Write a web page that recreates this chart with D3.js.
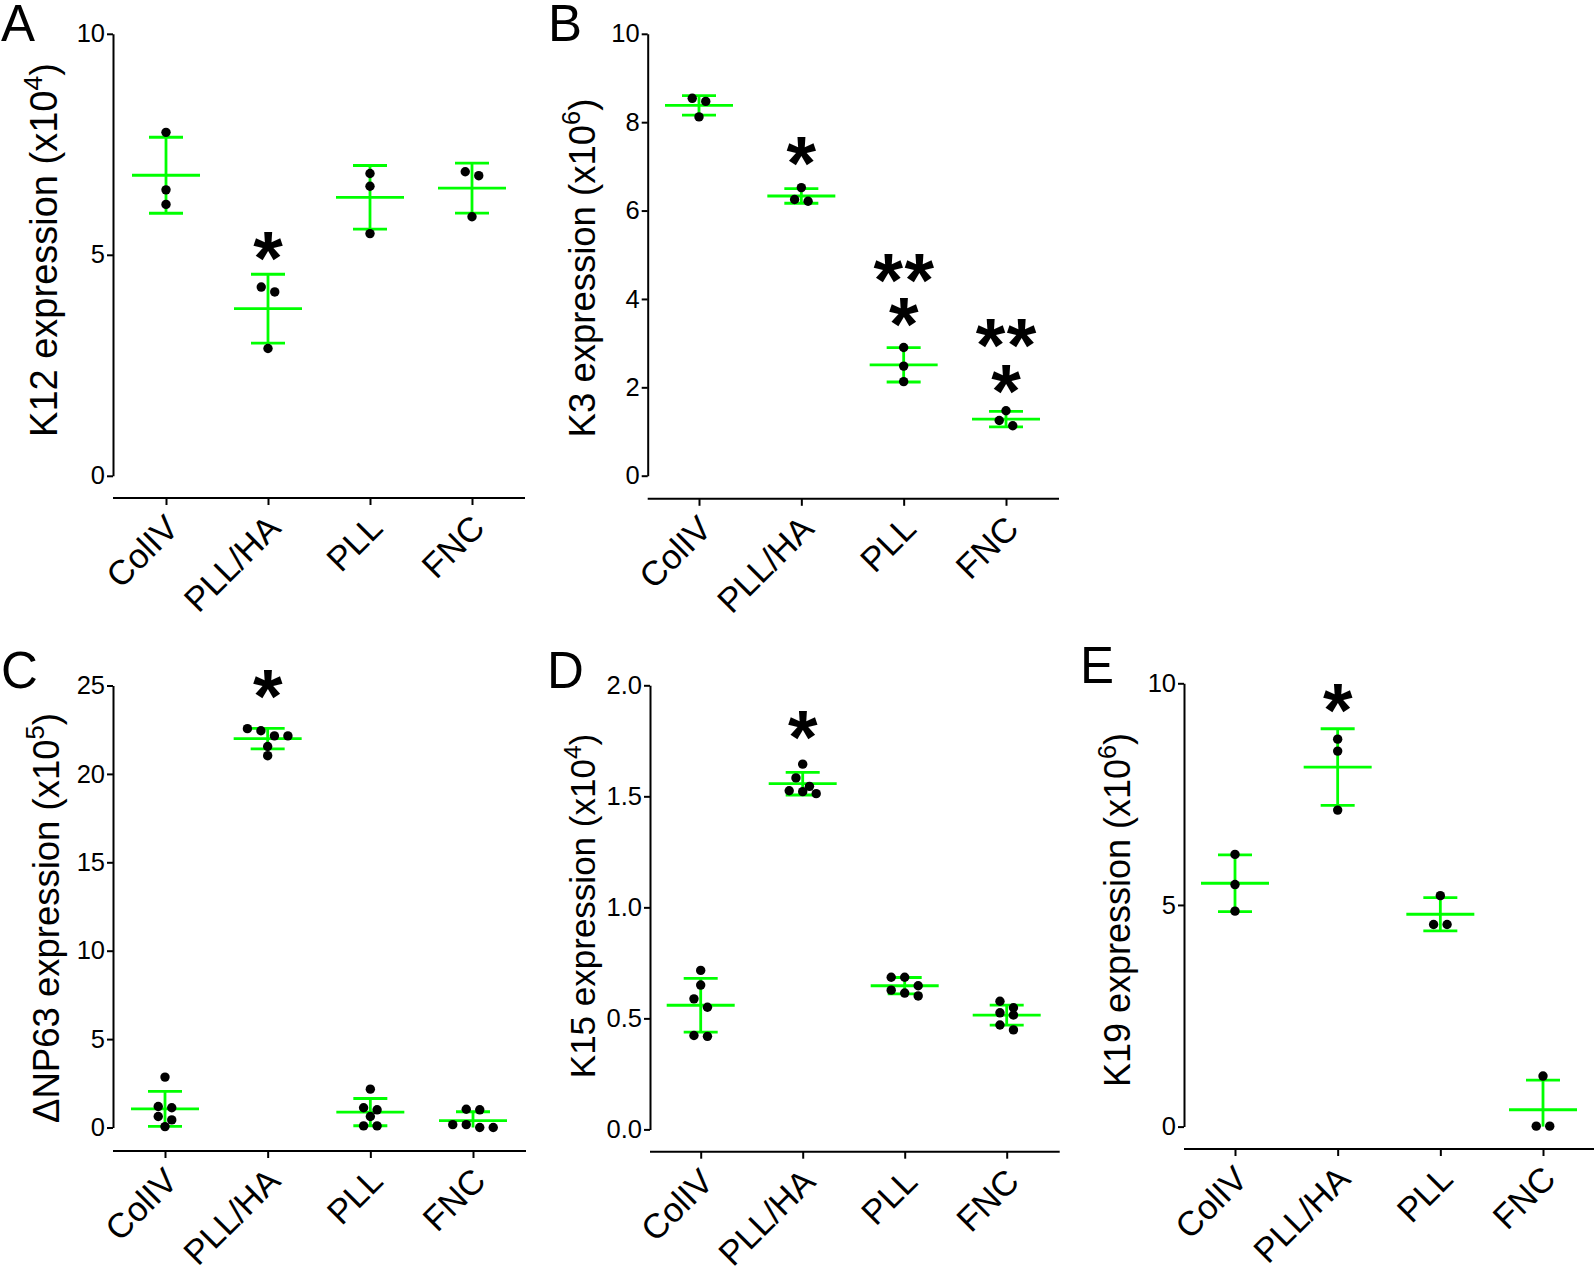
<!DOCTYPE html>
<html>
<head>
<meta charset="utf-8">
<script src="https://cdn.jsdelivr.net/npm/d3@7"></script>
<style>
  body { margin: 0; background: #fff; }
  svg { display: block; }
  text { font-family: "Liberation Sans", Arial, Helvetica, sans-serif; fill: #000; }
</style>
</head>
<body>
<div id="chart"></div>
<script>
// groups on every panel
var groups = ["ColIV", "PLL/HA", "PLL", "FNC"];

// A: K12 expression (x10^4)
var k12Dots = [[7.77, 6.47, 6.14], [4.27, 4.16, 2.88], [6.84, 6.55, 5.48], [6.88, 6.79, 5.86]];
var k12Mean = [6.80, 3.78, 6.30, 6.51];
var k12Sd = [0.86, 0.78, 0.72, 0.565];
var k12Ticks = [0, 5, 10];
var k12Stars = [["PLL/HA", 5.14, "*"]];

// B: K3 expression (x10^6)
var k3Dots = [[8.54, 8.47, 8.12], [6.52, 6.25, 6.21], [2.90, 2.48, 2.13], [1.47, 1.25, 1.13]];
var k3Mean = [8.38, 6.33, 2.51, 1.28];
var k3Sd = [0.22, 0.165, 0.39, 0.175];
var k3Ticks = [0, 2, 4, 6, 8, 10];
var k3Stars = [["PLL/HA", 7.30, "*"], ["PLL", 4.65, "**"], ["PLL", 3.66, "*"], ["FNC", 3.17, "**"], ["FNC", 2.13, "*"]];

// C: ΔNP63 expression (x10^5)
var np63Dots = [[2.85, 1.19, 1.12, 0.62, 0.43, 0.05], [22.56, 22.44, 22.15, 22.15, 21.55, 21.03],
                [2.17, 1.12, 1.00, 0.62, 0.09, 0.09], [1.03, 1.00, 0.16, 0.16, 0.0, 0.0]];
var np63Mean = [1.05, 21.99, 0.87, 0.39];
var np63Sd = [0.99, 0.58, 0.77, 0.50];
var np63Ticks = [0, 5, 10, 15, 20, 25];
var np63Stars = [["PLL/HA", 24.93, "*"]];

// D: K15 expression (x10^4)
var k15Dots = [[0.716, 0.650, 0.588, 0.550, 0.423, 0.419], [1.645, 1.583, 1.545, 1.525, 1.521, 1.512],
               [0.685, 0.685, 0.647, 0.627, 0.614, 0.601], [0.577, 0.548, 0.525, 0.515, 0.470, 0.448]];
var k15Mean = [0.559, 1.557, 0.647, 0.515];
var k15Sd = [0.121, 0.051, 0.037, 0.045];
var k15Ticks = [0, 0.5, 1.0, 1.5, 2.0];
var k15Stars = [["PLL/HA", 1.81, "*"]];

// E: K19 expression (x10^6)
var k19Dots = [[6.14, 5.46, 4.86], [8.74, 8.47, 7.14], [5.21, 4.56, 4.56], [1.14, 0.01, 0.01]];
var k19Mean = [5.49, 8.11, 4.79, 0.38];
var k19Sd = [0.64, 0.865, 0.375, 0.67];
var k19Ticks = [0, 5, 10];
var k19Stars = [["PLL/HA", 9.61, "*"]];

var width = 1594, height = 1271;
var green = "#00ff00";
var dotR = 4.7;
var starSize = 76;

var svg = d3.select("#chart").append("svg")
    .attr("width", width)
    .attr("height", height);

var panels = [
    { letter: "A", lx: 1, ly: 41, title: "K12 expression (x10", sup: "4", titleOff: 56, titleY: 250, titleSize: 38,
      dots: k12Dots, mean: k12Mean, sd: k12Sd, ticks: k12Ticks, stars: k12Stars, fmt: d3.format("d"),
      x0: 113, t0: 166, t1: 472, yTop: 33.8, yBot: 475.8, axisY: 498 },
    { letter: "B", lx: 548, ly: 41, title: "K3 expression (x10", sup: "6", titleOff: 53, titleY: 268, titleSize: 36.5,
      dots: k3Dots, mean: k3Mean, sd: k3Sd, ticks: k3Ticks, stars: k3Stars, fmt: d3.format("d"),
      x0: 647.7, t0: 699, t1: 1006, yTop: 33.8, yBot: 475.7, axisY: 498.8 },
    { letter: "C", lx: 1, ly: 688, title: "\u0394NP63 expression (x10", sup: "5", titleOff: 54, titleY: 918, titleSize: 36.5,
      dots: np63Dots, mean: np63Mean, sd: np63Sd, ticks: np63Ticks, stars: np63Stars, fmt: d3.format("d"),
      x0: 113, t0: 165, t1: 473, yTop: 685.5, yBot: 1127.5, axisY: 1151 },
    { letter: "D", lx: 547, ly: 688, title: "K15 expression (x10", sup: "4", titleOff: 55, titleY: 906, titleSize: 35,
      dots: k15Dots, mean: k15Mean, sd: k15Sd, ticks: k15Ticks, stars: k15Stars, fmt: d3.format(".1f"),
      x0: 650, t0: 700.7, t1: 1006.7, yTop: 685.3, yBot: 1129.4, axisY: 1151.7 },
    { letter: "E", lx: 1080, ly: 683, title: "K19 expression (x10", sup: "6", titleOff: 54, titleY: 910, titleSize: 36,
      dots: k19Dots, mean: k19Mean, sd: k19Sd, ticks: k19Ticks, stars: k19Stars, fmt: d3.format("d"),
      x0: 1184, t0: 1235, t1: 1543, yTop: 683.3, yBot: 1126.6, axisY: 1149 }
];

panels.forEach(drawPanel);

// GraphPad-like layout: dots close in y share a row, row is centred on the group
function rowOffsets(vals, y) {
    var order = vals.map(function (v, i) { return { i: i, py: y(v) }; })
        .sort(function (a, b) { return a.py - b.py; });
    var rows = [], cur = null;
    order.forEach(function (o) {
        if (cur && o.py - cur.start < dotR * 1.8) cur.items.push(o);
        else { cur = { start: o.py, items: [o] }; rows.push(cur); }
    });
    var off = [];
    rows.forEach(function (r) {
        var n = r.items.length;
        r.items.forEach(function (o, k) { off[o.i] = (k - (n - 1) / 2) * 13.5; });
    });
    return off;
}

function drawPanel(p) {
    var g = svg.append("g");
    var lo = p.ticks[0], hi = p.ticks[p.ticks.length - 1];
    var y = d3.scaleLinear().domain([lo, hi]).range([p.yBot, p.yTop]);
    var x = d3.scalePoint().domain(groups).range([p.t0, p.t1]);

    // panel letter
    g.append("text").attr("x", p.lx).attr("y", p.ly)
        .attr("font-size", 51).text(p.letter);

    // y axis
    var ya = g.append("g").attr("transform", "translate(" + p.x0 + ",0)")
        .call(d3.axisLeft(y).tickValues(p.ticks).tickFormat(p.fmt)
            .tickSize(6).tickSizeOuter(0).tickPadding(2));
    ya.attr("font-family", null).attr("font-size", null);
    ya.selectAll("path, line").attr("stroke", "#000").attr("stroke-width", 2);
    ya.selectAll("text").attr("font-size", 25.5);

    // x axis
    var xa = g.append("g").attr("transform", "translate(0," + p.axisY + ")")
        .call(d3.axisBottom(x).tickSize(7).tickSizeOuter(0));
    xa.attr("font-family", null).attr("font-size", null);
    xa.select(".domain").remove();
    xa.append("line")
        .attr("x1", p.x0).attr("x2", p.t1 + 53)
        .attr("stroke", "#000").attr("stroke-width", 2);
    xa.selectAll(".tick line").attr("stroke", "#000").attr("stroke-width", 2);
    xa.selectAll(".tick text")
        .attr("x", 0).attr("y", 0).attr("dy", null)
        .attr("text-anchor", "end")
        .attr("font-size", 34.5)
        .attr("transform", "translate(14,32) rotate(-45)");

    // y title
    var t = g.append("text")
        .attr("transform", "translate(" + (p.x0 - p.titleOff) + "," + p.titleY + ") rotate(-90)")
        .attr("text-anchor", "middle")
        .attr("font-size", p.titleSize);
    t.append("tspan").text(p.title);
    t.append("tspan").attr("font-size", p.titleSize * 0.7).attr("dy", -p.titleSize * 0.4).text(p.sup);
    t.append("tspan").attr("dy", p.titleSize * 0.4).text(")");

    // error bars (mean +/- SD), clipped at the axis minimum
    var bars = g.append("g").attr("stroke", green).attr("stroke-width", 2.8);
    groups.forEach(function (name, i) {
        var cx = x(name), m = p.mean[i], s = p.sd[i];
        var top = m + s, bot = Math.max(lo, m - s);
        bars.append("line").attr("x1", cx).attr("x2", cx).attr("y1", y(top)).attr("y2", y(bot));
        bars.append("line").attr("x1", cx - 34).attr("x2", cx + 34).attr("y1", y(m)).attr("y2", y(m));
        bars.append("line").attr("x1", cx - 17).attr("x2", cx + 17).attr("y1", y(top)).attr("y2", y(top));
        if (m - s >= lo) {
            bars.append("line").attr("x1", cx - 17).attr("x2", cx + 17).attr("y1", y(bot)).attr("y2", y(bot));
        }
    });

    // dots
    groups.forEach(function (name, i) {
        var vals = p.dots[i];
        var off = rowOffsets(vals, y);
        g.append("g").selectAll("circle").data(vals).enter().append("circle")
            .attr("cx", function (d, k) { return x(name) + off[k]; })
            .attr("cy", function (d) { return y(d); })
            .attr("r", dotR)
            .attr("fill", "#000");
    });

    // significance stars
    p.stars.forEach(function (s) {
        var n = s[2].length;
        for (var k = 0; k < n; k++) {
            g.append("text")
                .attr("x", x(s[0]) + (k - (n - 1) / 2) * 31)
                .attr("y", y(s[1]) + 0.47 * starSize)
                .attr("text-anchor", "middle")
                .attr("font-size", starSize)
                .attr("font-weight", "bold")
                .text("*");
        }
    });
}
</script>
</body>
</html>
